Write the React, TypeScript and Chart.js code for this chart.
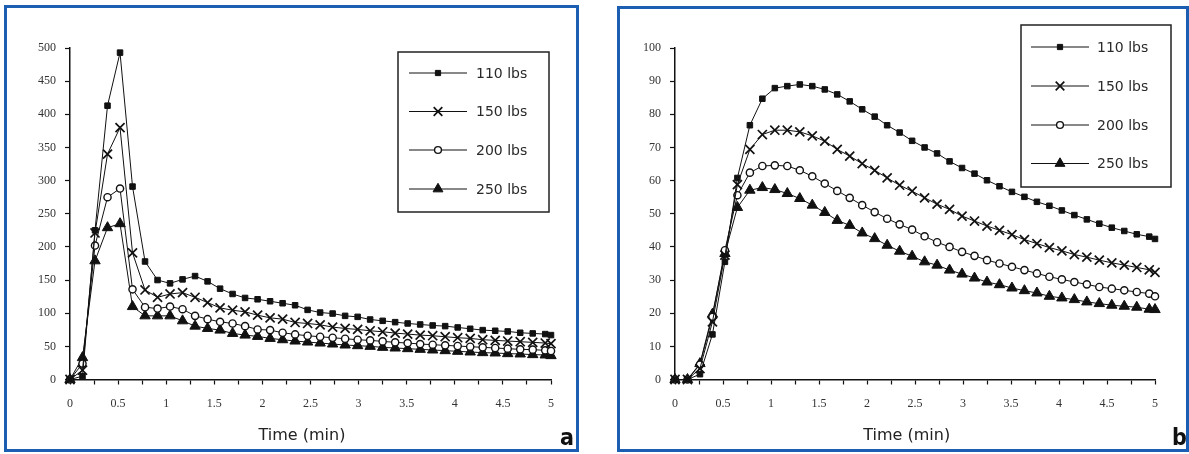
import React, { useEffect, useRef } from 'react';
import { Chart, registerables } from 'chart.js';
import { drawPoint } from 'chart.js/helpers';

Chart.register(...registerables);

// ---------- data ----------
const TIME_MIN = [0, 0.13, 0.26, 0.39, 0.52, 0.65, 0.78, 0.91, 1.04, 1.17, 1.3, 1.43, 1.56, 1.69, 1.82, 1.95, 2.08, 2.21, 2.34, 2.47, 2.6, 2.73, 2.86, 2.99, 3.12, 3.25, 3.38, 3.51, 3.64, 3.77, 3.9, 4.03, 4.16, 4.29, 4.42, 4.55, 4.68, 4.81, 4.94, 5.0];

const SERIES_LABELS = ['110 lbs', '150 lbs', '200 lbs', '250 lbs'];

// panel a
const A_110 = [0, 5, 225, 413, 493, 291, 178, 150, 145, 151, 156, 148, 137, 129, 123, 121, 118, 115, 112, 105, 101, 99.5, 96, 94.5, 90.5, 88.5, 86.5, 84.5, 83, 81.5, 80.5, 78.5, 76.5, 74.5, 73.5, 72.5, 70.5, 69.5, 68.5, 67];
const A_150 = [0, 14, 221, 340, 380, 191, 135, 124, 129, 131, 124, 116, 108, 104.5, 102, 97, 93, 91, 86, 84.5, 82.5, 79, 77, 75.5, 73.5, 72, 70, 68.5, 67, 66, 64.5, 63, 62, 60, 59, 58, 57, 56, 55, 54];
const A_200 = [0, 24, 202, 275, 288, 136, 109, 107, 110, 106, 96, 91, 87, 84.5, 80.5, 75.5, 74.5, 70.5, 68, 66, 64.5, 63, 61.5, 60, 59, 57.5, 56, 55, 53.5, 52.5, 51.5, 50.5, 49.5, 48.5, 47.5, 46.5, 45.5, 45, 44, 43];
const A_250 = [0, 33, 179, 229, 235, 110, 96, 96, 96, 88.5, 80.5, 77, 74.5, 69.5, 67, 65, 62, 60, 58, 56.5, 55, 53.5, 52, 51, 50, 48.5, 47.5, 46.5, 45.5, 44.5, 43.5, 42.5, 41.5, 40.5, 40, 39, 38.5, 37.5, 37, 36];

// panel b
const B_110 = [0, 0, 1.6, 13.6, 35.5, 60.8, 76.7, 84.7, 87.9, 88.5, 89.0, 88.5, 87.5, 86.0, 83.9, 81.5, 79.3, 76.7, 74.5, 72.0, 70.0, 68.2, 65.8, 63.8, 62.1, 60.1, 58.3, 56.6, 55.1, 53.6, 52.4, 51.0, 49.6, 48.3, 47.0, 45.8, 44.8, 43.8, 43.1, 42.4];
const B_150 = [0, 0, 3.3, 17.4, 37.5, 58.8, 69.4, 73.9, 75.2, 75.2, 74.7, 73.5, 71.9, 69.4, 67.4, 65.1, 63.1, 60.8, 58.6, 56.8, 54.8, 52.9, 51.3, 49.3, 47.8, 46.3, 45.0, 43.7, 42.2, 41.0, 39.8, 38.8, 37.7, 36.9, 36.0, 35.2, 34.5, 33.8, 33.1, 32.3];
const B_200 = [0, 0, 4.5, 18.9, 39, 55.6, 62.4, 64.4, 64.6, 64.4, 63.1, 61.3, 59.1, 56.9, 54.8, 52.6, 50.5, 48.5, 46.8, 45.2, 43.2, 41.4, 40.0, 38.5, 37.3, 36.0, 35.0, 34.0, 33.0, 32.0, 31.0, 30.2, 29.4, 28.7, 27.9, 27.4, 26.9, 26.4, 25.9, 25.1];
const B_250 = [0, 0, 4.8, 19.7, 38, 51.9, 57.1, 57.9, 57.3, 56.1, 54.6, 52.6, 50.4, 48.0, 46.5, 44.2, 42.5, 40.5, 38.7, 37.2, 35.5, 34.5, 33.0, 31.8, 30.6, 29.4, 28.6, 27.6, 26.8, 26.1, 25.1, 24.6, 24.1, 23.4, 22.9, 22.4, 22.1, 21.8, 21.2, 21.1];

const X_AXIS_TITLE = 'Time (min)';

// ---------- styles ----------
const INK = '#111';
const BLUE = '#1c5fb2';
const MARKERS = [
  { pointStyle: 'rect', radius: 3.9, bg: INK, bw: 1 },
  { pointStyle: 'crossRot', radius: 6.4, bg: INK, bw: 1.7 },
  { pointStyle: 'circle', radius: 3.6, bg: '#fff', bw: 1.4 },
  { pointStyle: 'triangle', radius: 6, bg: INK, bw: 1 },
];

const boxLegend = {
  id: 'boxLegend',
  afterDraw(chart: any, _args: any, opts: any) {
    const ctx = chart.ctx;
    ctx.save();
    ctx.fillStyle = '#fff';
    ctx.fillRect(opts.x, opts.y, opts.w, opts.h);
    ctx.lineWidth = 1.5;
    ctx.strokeStyle = '#222';
    ctx.strokeRect(opts.x, opts.y, opts.w, opts.h);
    chart.data.datasets.forEach((ds: any, i: number) => {
      const y = opts.rows[i];
      ctx.beginPath();
      ctx.lineWidth = 1;
      ctx.strokeStyle = INK;
      ctx.moveTo(opts.lineX1, y);
      ctx.lineTo(opts.lineX2, y);
      ctx.stroke();
      ctx.fillStyle = ds.pointBackgroundColor;
      ctx.strokeStyle = INK;
      ctx.lineWidth = ds.pointBorderWidth;
      drawPoint(ctx, { pointStyle: ds.pointStyle, radius: ds.pointRadius * 0.95, borderWidth: ds.pointBorderWidth, rotation: 0 } as any, opts.markerX, y);
      ctx.fillStyle = '#2a2a2a';
      ctx.font = '14px "DejaVu Sans"';
      ctx.textBaseline = 'middle';
      ctx.textAlign = 'left';
      ctx.fillText(ds.label, opts.textX, y + 1);
    });
    ctx.restore();
  },
};

function buildConfig(series: number[][], yMax: number, yStep: number, yAxisWidth: number, padRight: number, legend: any) {
  const datasets = series.map((vals, i) => ({
    label: SERIES_LABELS[i],
    data: TIME_MIN.map((t, k) => ({ x: t, y: vals[k] })),
    showLine: true,
    borderColor: INK,
    borderWidth: 1,
    pointStyle: MARKERS[i].pointStyle,
    pointRadius: MARKERS[i].radius,
    pointBackgroundColor: MARKERS[i].bg,
    pointBorderColor: INK,
    pointBorderWidth: MARKERS[i].bw,
    tension: 0,
    clip: false,
  }));
  const tickFont = { family: '"Liberation Serif", "Times New Roman", serif', size: 12 };
  return {
    type: 'scatter',
    data: { datasets },
    plugins: [boxLegend],
    options: {
      animation: false,
      responsive: false,
      devicePixelRatio: 1,
      layout: { padding: { left: 0, top: 48, right: padRight, bottom: 34.5 } },
      plugins: {
        legend: { display: false },
        tooltip: { enabled: false },
        boxLegend: legend,
      },
      scales: {
        x: {
          type: 'linear',
          min: 0,
          max: 5,
          afterFit: (s: any) => { s.height = 40; },
          border: { display: true, color: INK, width: 1.5 },
          grid: { display: true, drawOnChartArea: false, drawTicks: true, tickLength: 5, tickColor: INK, tickWidth: 1.2 },
          ticks: {
            stepSize: 0.25,
            autoSkip: false,
            maxRotation: 0,
            padding: 12,
            color: '#333',
            font: tickFont,
            callback: (v: any) => (Math.round(Number(v) * 100) % 50 === 0 ? String(Number(v)) : ''),
          },
        },
        y: {
          type: 'linear',
          min: 0,
          max: yMax,
          afterFit: (s: any) => { s.width = yAxisWidth; },
          border: { display: true, color: INK, width: 1.5 },
          grid: { display: true, drawOnChartArea: false, drawTicks: true, tickLength: 5, tickColor: INK, tickWidth: 1.2 },
          ticks: { stepSize: yStep, padding: 9, color: '#333', font: tickFont },
        },
      },
    },
  };
}

function ChartCanvas({ left, width, config }: { left: number; width: number; config: any }) {
  const ref = useRef<HTMLCanvasElement | null>(null);
  useEffect(() => {
    if (!ref.current) return;
    const chart = new Chart(ref.current, config);
    return () => chart.destroy();
  }, []);
  return (
    <canvas
      ref={ref}
      width={width}
      height={454}
      style={{ position: 'absolute', left, top: 0, width, height: 454 }}
    />
  );
}

const labelStyle: React.CSSProperties = {
  position: 'absolute',
  width: 120,
  textAlign: 'center',
  top: 426.5,
  font: '16px "DejaVu Sans", sans-serif',
  lineHeight: '16px',
  color: '#222',
  whiteSpace: 'nowrap',
};
const letterStyle: React.CSSProperties = {
  position: 'absolute',
  top: 425.5,
  font: 'bold 23px "DejaVu Sans Condensed", "DejaVu Sans", sans-serif',
  lineHeight: '23px',
  color: '#111',
};

export default function App() {
  const cfgA = buildConfig([A_110, A_150, A_200, A_250], 500, 50, 70, 29, {
    x: 398, y: 52, w: 151, h: 160, lineX1: 409, lineX2: 467, markerX: 438, textX: 476, rows: [73, 111.5, 150, 189],
  });
  const cfgB = buildConfig([B_110, B_150, B_200, B_250], 100, 10, 75, 34, {
    x: 421, y: 25, w: 150, h: 162, lineX1: 431, lineX2: 489, markerX: 460, textX: 497, rows: [47, 86, 125, 163.5],
  });
  return (
    <div style={{ position: 'absolute', left: 0, top: 0, width: 1189, height: 454, background: '#fff', overflow: 'hidden' }}>
      <div style={{ position: 'absolute', left: 4, top: 5, width: 575, height: 447, border: `3px solid ${BLUE}`, boxSizing: 'border-box' }} />
      <div style={{ position: 'absolute', left: 617, top: 6, width: 572, height: 446, border: `3px solid ${BLUE}`, boxSizing: 'border-box' }} />
      <ChartCanvas left={0} width={580} config={cfgA} />
      <ChartCanvas left={600} width={589} config={cfgB} />
      <div style={{ ...labelStyle, left: 302 - 60 }}>{X_AXIS_TITLE}</div>
      <div style={{ ...labelStyle, left: 906.7 - 60 }}>{X_AXIS_TITLE}</div>
      <div style={{ ...letterStyle, left: 560 }}>a</div>
      <div style={{ ...letterStyle, left: 1172 }}>b</div>
    </div>
  );
}
